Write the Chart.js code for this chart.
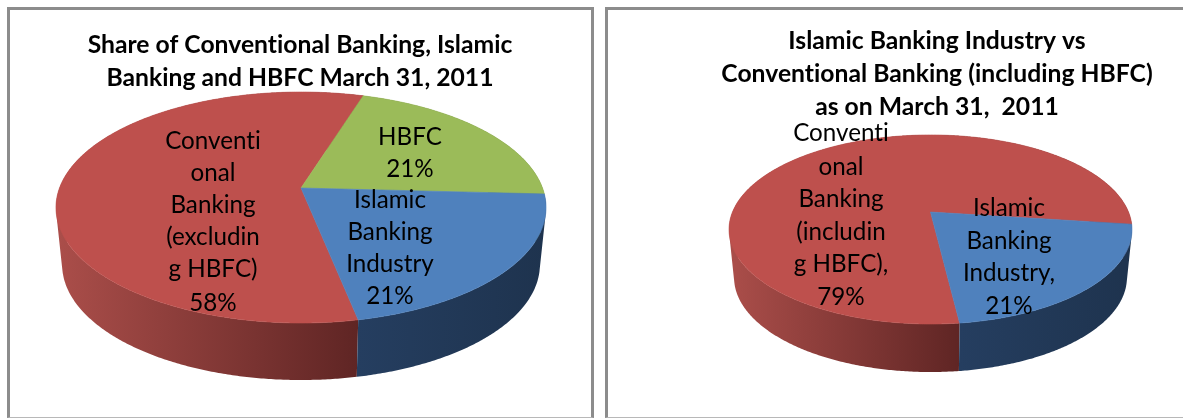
<!DOCTYPE html>
<html>
<head>
<meta charset="utf-8">
<title>Banking shares, March 31, 2011</title>
<script src="https://cdn.jsdelivr.net/npm/chart.js@4"></script>
<style>
  html, body { margin: 0; padding: 0; background: #fff; overflow: hidden; }
  #page { position: relative; width: 1183px; height: 419px; overflow: hidden; }
  canvas { position: absolute; top: 0; }
  .frame { position: absolute; box-sizing: border-box; border-style: solid;
           border-color: #8c8c8c; border-bottom-color: #b8b8b8;
           border-width: 3px 3px 1px 3px; }
</style>
</head>
<body>
<div id="page">
  <div class="frame" style="left:7px;top:7px;width:587px;height:411px"></div>
  <div class="frame" style="left:605px;top:7px;width:590px;height:411px"></div>
  <canvas id="shareChart" width="595" height="419" style="left:0"></canvas>
  <canvas id="versusChart" width="588" height="419" style="left:595px"></canvas>
</div>
<script>
// March 31, 2011 market shares (percent)
const shareCategories = ['Conventional Banking (excluding HBFC)', 'HBFC', 'Islamic Banking Industry'];
const shareValues = [58, 21, 21];
const shareTitle = ['Share of Conventional Banking, Islamic', 'Banking and HBFC March 31, 2011'];

const versusCategories = ['Conventional Banking (including HBFC)', 'Islamic Banking Industry'];
const versusValues = [79, 21];
const versusTitle = ['Islamic Banking Industry vs', 'Conventional Banking (including HBFC)', 'as on March 31,  2011'];

const sliceRed = '#BE504D', sliceGreen = '#9BBB59', sliceBlue = '#4F81BD';

// Side-wall shading, left to right across the visible part of each slice
const wallRed = ['#AB4E4A', '#5F2524'];
const wallGreen = ['#5F7438', '#5F7438'];
const wallBlue = ['#253E60', '#1E334E'];

const FONT = 'Lato, Carlito, Calibri, sans-serif';
const STEP = Math.PI / 360;

// Projects a point of the unit disc onto the tilted pie, with perspective.
function project(g, angle, lower) {
  const X = Math.cos(angle), Y = Math.sin(angle);
  const w = 1 + g.persp * Y;
  const dx = g.rx * X / w, dy = g.ry * Y / w;
  return lower
    ? { x: g.cx + dx * g.shrink, y: g.cy + dy + g.depth }
    : { x: g.cx + dx, y: g.cy + dy };
}

function sliceAngles(from, to) {
  const steps = Math.max(2, Math.ceil((to - from) / STEP));
  const out = [];
  for (let i = 0; i <= steps; i++) out.push(from + (to - from) * i / steps);
  return out;
}

// Angles from the start of a slice up to where its rim turns to the back.
function frontRun(angles) {
  const end = angles.findIndex((t) => Math.sin(t) < 0);
  if (end === 0) return angles;
  return end < 0 ? angles : angles.slice(0, end);
}

// Appends a quad to the current path, always wound the same way so that
// overlapping quads merge into one seamless shape.
function addQuad(ctx, pts) {
  let area = 0;
  pts.forEach((p, i) => {
    const q = pts[(i + 1) % pts.length];
    area += p.x * q.y - q.x * p.y;
  });
  const ordered = area < 0 ? pts.slice().reverse() : pts;
  ctx.moveTo(ordered[0].x, ordered[0].y);
  ordered.slice(1).forEach((p) => ctx.lineTo(p.x, p.y));
  ctx.closePath();
}

// Draws the pie's arcs (angles computed by Chart.js) as a tilted 3D disc.
const tiltedPie = {
  id: 'tiltedPie',
  beforeDraw(chart) {
    // A tiny tracking value keeps "ti" as two separate glyphs.
    chart.ctx.letterSpacing = '0.01px';
  },
  beforeDatasetDraw(chart, args, opts) {
    const ctx = chart.ctx, g = opts.geometry;
    const arcs = chart.getDatasetMeta(args.index).data;
    ctx.save();
    arcs.forEach((arc, i) => {
      const angles = sliceAngles(arc.startAngle, arc.endAngle);
      const xs = frontRun(angles).map((t) => project(g, t).x);
      const grad = ctx.createLinearGradient(Math.min(...xs), 0, Math.max(...xs), 0);
      grad.addColorStop(0, opts.walls[i][0]);
      grad.addColorStop(1, opts.walls[i][1]);
      // Ruled strip between the top rim and the bottom rim
      ctx.beginPath();
      for (let k = 0; k < angles.length - 1; k++) {
        addQuad(ctx, [
          project(g, angles[k]), project(g, angles[k + 1]),
          project(g, angles[k + 1], true), project(g, angles[k], true)
        ]);
      }
      ctx.fillStyle = grad;
      ctx.fill('nonzero');
    });
    arcs.forEach((arc) => {
      const color = arc.options.backgroundColor;
      ctx.beginPath();
      ctx.moveTo(g.cx, g.cy);
      sliceAngles(arc.startAngle, arc.endAngle).forEach((t) => {
        const p = project(g, t);
        ctx.lineTo(p.x, p.y);
      });
      ctx.closePath();
      ctx.fillStyle = color;
      ctx.strokeStyle = color;
      ctx.lineWidth = 0.6;
      ctx.fill();
      ctx.stroke();
    });
    ctx.restore();
    return false;
  },
  afterDatasetsDraw(chart, args, opts) {
    const ctx = chart.ctx;
    ctx.save();
    ctx.fillStyle = '#000';
    ctx.font = opts.labelFont;
    ctx.textAlign = 'center';
    ctx.textBaseline = 'middle';
    opts.labels.forEach((block) => {
      block.lines.forEach((line, i) => ctx.fillText(line, block.x, block.ys[i]));
    });
    ctx.restore();
  }
};

function buildChart(id, categories, values, colors, titleLines, cfg) {
  return new Chart(document.getElementById(id), {
    type: 'pie',
    data: {
      labels: categories,
      datasets: [{ data: values, backgroundColor: colors, borderWidth: 0 }]
    },
    plugins: [tiltedPie],
    options: {
      responsive: false,
      animation: false,
      events: [],
      rotation: cfg.rotation,
      layout: { padding: { left: cfg.padLeft } },
      plugins: {
        legend: { display: false },
        tooltip: { enabled: false },
        title: {
          display: true,
          text: titleLines,
          fullSize: false,
          color: '#000',
          z: 1,
          padding: { top: cfg.titleTop, bottom: 0 },
          font: { family: FONT, size: 24.7, weight: 'bold', lineHeight: cfg.titleLine }
        },
        tiltedPie: {
          geometry: cfg.geometry,
          walls: cfg.walls,
          labels: cfg.labels,
          labelFont: '24.2px ' + FONT
        }
      }
    }
  });
}

buildChart('shareChart', shareCategories, shareValues, [sliceRed, sliceGreen, sliceBlue], shareTitle, {
  rotation: 168.6,
  padLeft: 5,
  titleTop: 29,
  titleLine: 1.336,
  walls: [wallRed, wallGreen, wallBlue],
  geometry: { cx: 301, cy: 188, rx: 241.5, ry: 112.2, persp: -0.169, depth: 57, shrink: 0.975 },
  labels: [
    { x: 213, ys: [141, 173, 205, 237, 269, 303], lines: ['Conventi', 'onal', 'Banking', '(excludin', 'g HBFC)', '58%'] },
    { x: 410, ys: [137, 169], lines: ['HBFC', '21%'] },
    { x: 390, ys: [200, 232, 264, 296], lines: ['Islamic', 'Banking', 'Industry', '21%'] }
  ]
});

buildChart('versusChart', versusCategories, versusValues, [sliceRed, sliceBlue], versusTitle, {
  rotation: 173.1,
  padLeft: 96,
  titleTop: 25,
  titleLine: 1.336,
  walls: [wallRed, wallBlue],
  geometry: { cx: 335.5, cy: 212, rx: 198, ry: 91.3, persp: -0.185, depth: 48, shrink: 0.975 },
  labels: [
    { x: 246, ys: [133, 167, 199, 232, 264, 297], lines: ['Conventi', 'onal', 'Banking', '(includin', 'g HBFC),', '79%'] },
    { x: 414, ys: [208, 241, 273, 306], lines: ['Islamic', 'Banking', 'Industry,', '21%'] }
  ]
});
</script>
</body>
</html>
